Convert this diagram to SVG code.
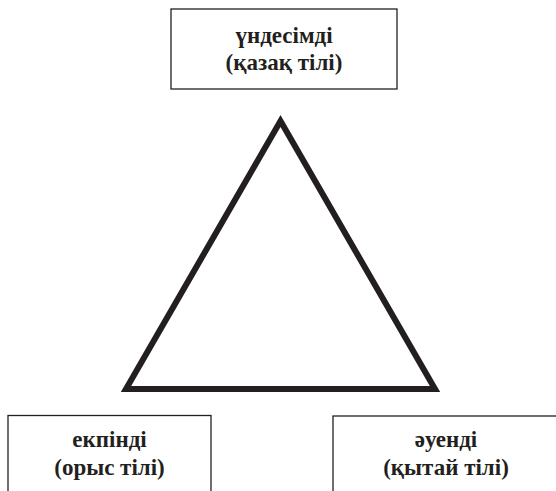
<svg xmlns="http://www.w3.org/2000/svg" width="556" height="491" viewBox="0 0 556 491">
  <style>
    .box { fill: #ffffff; stroke: #231f20; stroke-width: 1.3; }
    .t { font-family: "Liberation Serif", serif; font-weight: bold; font-size: 23px; fill: #231f20; text-anchor: middle; }
    .tri { fill: none; stroke: #231f20; stroke-width: 6; stroke-linejoin: miter; stroke-miterlimit: 10; }
  </style>
  <rect width="556" height="491" fill="#ffffff"/>

  <!-- central triangle -->
  <g id="connectors">
    <polygon class="tri" points="280.5,121 126,389 435,389"/>
  </g>

  <!-- top: kazakh -->
  <g id="node-kazakh">
    <rect class="box" x="171" y="9" width="226" height="80"/>
    <text class="t" font-family="Liberation Serif" x="284" y="43">үндесімді</text>
    <text class="t" font-family="Liberation Serif" x="284" y="70">(қазақ тілі)</text>
  </g>

  <!-- bottom left: russian -->
  <g id="node-russian">
    <rect class="box" x="8" y="415.5" width="203" height="90"/>
    <text class="t" font-family="Liberation Serif" x="109.5" y="447">екпінді</text>
    <text class="t" font-family="Liberation Serif" x="109.5" y="475">(орыс тілі)</text>
  </g>

  <!-- bottom right: chinese -->
  <g id="node-chinese">
    <rect class="box" x="333" y="416" width="240" height="90"/>
    <text class="t" font-family="Liberation Serif" x="446" y="447">әуенді</text>
    <text class="t" font-family="Liberation Serif" x="446" y="475">(қытай тілі)</text>
  </g>
</svg>
